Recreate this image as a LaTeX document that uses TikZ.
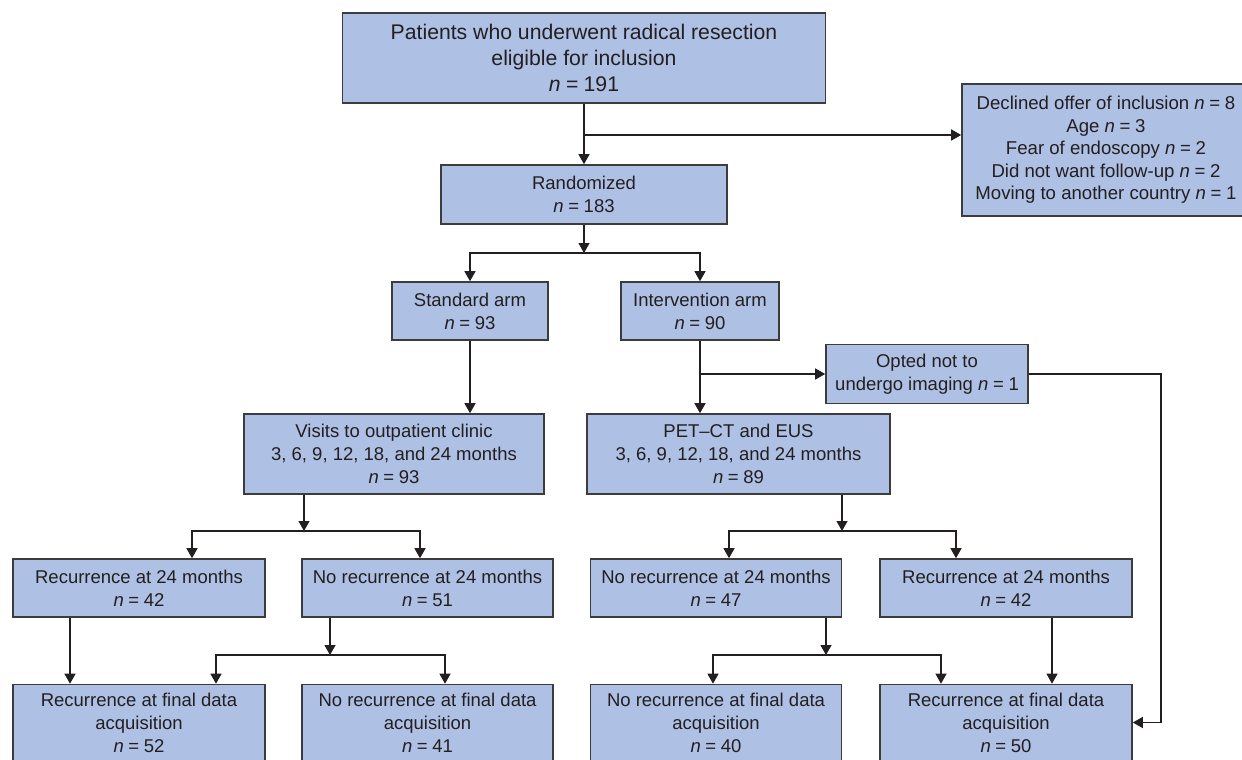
\documentclass[tikz,border=0pt]{standalone}
\usepackage{fontspec}
\setmainfont{Liberation Sans}
\usetikzlibrary{arrows.meta,calc}
\definecolor{boxfill}{RGB}{174,192,228}
\definecolor{boxline}{RGB}{60,60,60}
\definecolor{conn}{RGB}{35,31,32}
\newcommand{\nn}[1]{\textit{n}\hspace{0.25em}=\hspace{0.25em}#1}
\begin{document}
\begin{tikzpicture}[x=1pt,y=-1pt,
  box/.style={draw=boxline,line width=1.6pt,fill=boxfill,align=center,inner sep=2pt,
    text=conn,font=\fontsize{18.5}{23}\selectfont},
  arr/.style={draw=conn,line width=1.3pt,-{Triangle[length=10pt,width=11pt]}},
  ln/.style={draw=conn,line width=1.3pt}]
\useasboundingbox (0,0) rectangle (1242,760);
% nodes
\node[box,minimum width=483,minimum height=90,font=\fontsize{21.2}{26}\selectfont] (top) at (584,58)
  {Patients who underwent radical resection\\eligible for inclusion\\\nn{191}};
\node[box,minimum width=288,minimum height=132,font=\fontsize{18.6}{22.5}\selectfont] (excl) at (1106,150)
  {Declined offer of inclusion \nn{8}\\Age \nn{3}\\Fear of endoscopy \nn{2}\\Did not want follow-up \nn{2}\\Moving to another country \nn{1}};
\node[box,minimum width=286,minimum height=59] (rand) at (584,194.5) {Randomized\\\nn{183}};
\node[box,minimum width=156,minimum height=58] (std) at (470,311) {Standard arm\\\nn{93}};
\node[box,minimum width=158,minimum height=58] (int) at (700,311) {Intervention arm\\\nn{90}};
\node[box,minimum width=202,minimum height=59] (opt) at (927,374) {Opted not to\\undergo imaging \nn{1}};
\node[box,minimum width=300,minimum height=80] (vis) at (394,454) {Visits to outpatient clinic\\3, 6, 9, 12, 18, and 24 months\\\nn{93}};
\node[box,minimum width=303,minimum height=80] (pet) at (738.5,454) {PET--CT and EUS\\3, 6, 9, 12, 18, and 24 months\\\nn{89}};
\node[box,minimum width=252,minimum height=58] (r24a) at (139,588) {Recurrence at 24 months\\\nn{42}};
\node[box,minimum width=251,minimum height=58] (n24a) at (427.5,588) {No recurrence at 24 months\\\nn{51}};
\node[box,minimum width=251,minimum height=58] (n24b) at (716,588) {No recurrence at 24 months\\\nn{47}};
\node[box,minimum width=252,minimum height=58] (r24b) at (1006,588) {Recurrence at 24 months\\\nn{42}};
\node[box,minimum width=252,minimum height=76] (rfa) at (139,722.5) {Recurrence at final data\\acquisition\\\nn{52}};
\node[box,minimum width=251,minimum height=76] (nfa) at (427.5,722.5) {No recurrence at final data\\acquisition\\\nn{41}};
\node[box,minimum width=251,minimum height=76] (nfb) at (716,722.5) {No recurrence at final data\\acquisition\\\nn{40}};
\node[box,minimum width=252,minimum height=76] (rfb) at (1006,722.5) {Recurrence at final data\\acquisition\\\nn{50}};
% junction coordinates
\coordinate (j1) at (584,135);
\coordinate (jr) at (584,253);
\coordinate (j2) at (700,374);
\coordinate (j3) at (304,531);
\coordinate (j4) at (842,531);
\coordinate (j5) at (330,655);
\coordinate (j6) at (826,655);
\coordinate (xa) at (192,0);
\coordinate (xb) at (420,0);
\coordinate (xc) at (729,0);
\coordinate (xd) at (956,0);
\coordinate (xe) at (70,0);
\coordinate (xf) at (216,0);
\coordinate (xg) at (445,0);
\coordinate (xh) at (713,0);
\coordinate (xi) at (941,0);
\coordinate (xj) at (1052,0);
\coordinate (xk) at (1161,0);
% connectors
\draw[arr] (top.south) -- (rand.north);
\draw[arr] (j1) -- (j1 -| excl.west);
\draw[arr] (rand.south) -- (jr);
\draw[arr] (jr) -| (std.north);
\draw[arr] (jr) -| (int.north);
\draw[arr] (std.south) -- (vis.north -| std.south);
\draw[arr] (int.south) -- (int.south |- pet.north);
\draw[arr] (j2) -- (opt.west);
\draw[arr] (opt.east) -- (opt.east -| xk) |- (rfb.east);
\draw[arr] (vis.south -| j3) -- (j3);
\draw[arr] (j3) -| (r24a.north -| xa);
\draw[arr] (j3) -| (n24a.north -| xb);
\draw[arr] (pet.south -| j4) -- (j4);
\draw[arr] (j4) -| (n24b.north -| xc);
\draw[arr] (j4) -| (r24b.north -| xd);
\draw[arr] (r24a.south -| xe) -- (rfa.north -| xe);
\draw[arr] (n24a.south -| j5) -- (j5);
\draw[arr] (j5) -| (rfa.north -| xf);
\draw[arr] (j5) -| (nfa.north -| xg);
\draw[arr] (n24b.south -| j6) -- (j6);
\draw[arr] (j6) -| (nfb.north -| xh);
\draw[arr] (j6) -| (rfb.north -| xi);
\draw[arr] (r24b.south -| xj) -- (rfb.north -| xj);
\end{tikzpicture}
\end{document}
